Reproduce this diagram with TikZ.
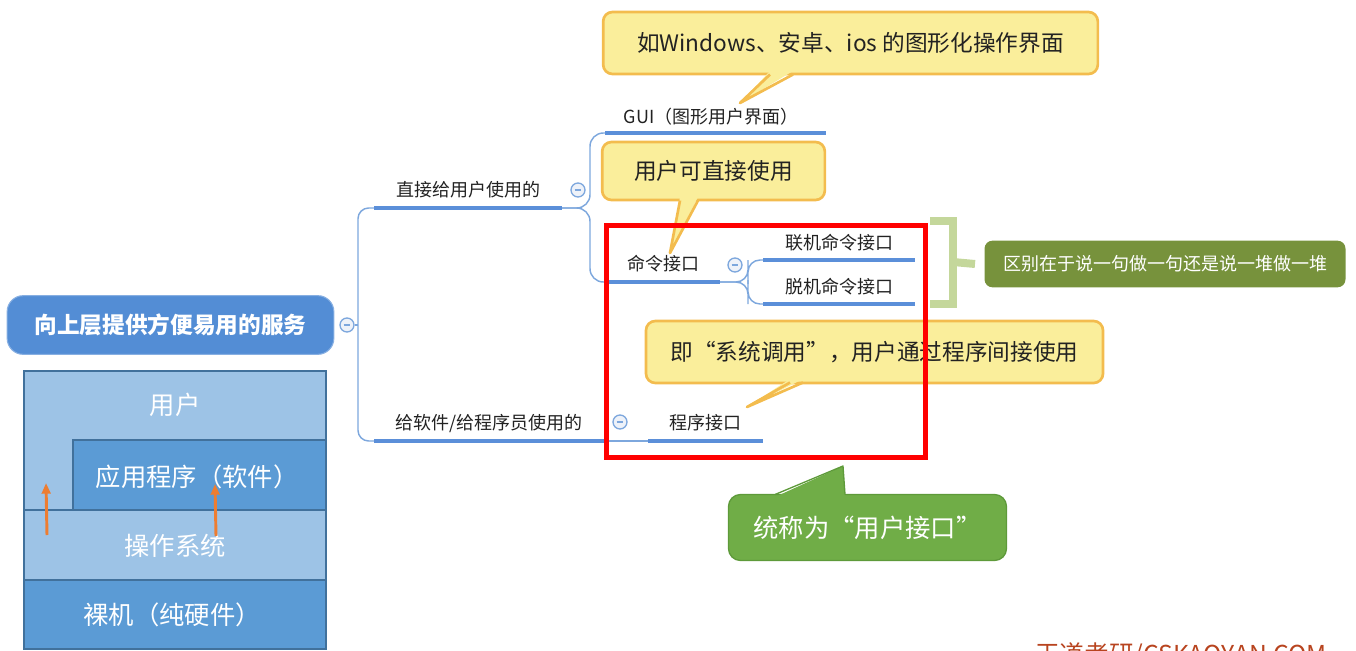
\documentclass[tikz,border=0pt]{standalone}
\usepackage{fontspec}
\setmainfont{Noto Sans CJK SC}
\usetikzlibrary{arrows.meta}
\definecolor{rootblue}{HTML}{538DD5}
\definecolor{lineblue}{HTML}{5B8FD9}
\definecolor{thinblue}{HTML}{7DA7DD}
\definecolor{cfill}{HTML}{EEF2F9}
\definecolor{yfill}{HTML}{FAEE9B}
\definecolor{yborder}{HTML}{F3BC4E}
\definecolor{gbracket}{HTML}{C4D79B}
\definecolor{olive}{HTML}{77923C}
\definecolor{gcall}{HTML}{70AD47}
\definecolor{gcallborder}{HTML}{5E9A3A}
\definecolor{slight}{HTML}{9DC3E6}
\definecolor{sdark}{HTML}{5B9BD5}
\definecolor{sborder}{HTML}{41719C}
\definecolor{orangeA}{HTML}{ED7D31}
\definecolor{wmark}{HTML}{B8441F}
\definecolor{txt}{HTML}{222222}
\tikzset{
  mmlabel/.style={font=\fontsize{13.5}{15}\selectfont, text=txt, inner sep=0pt},
  uline/.style={line width=3pt, draw=lineblue},
  thinl/.style={line width=1.1pt, draw=thinblue},
  collapse/.style={circle, draw=thinblue, fill=cfill, line width=1pt, minimum size=10.5pt, inner sep=0pt,
    path picture={\draw[thinblue, line width=0.9pt] ([xshift=-2.6pt]path picture bounding box.center) -- ([xshift=2.6pt]path picture bounding box.center);}},
  ybox/.style={draw=yborder, fill=yfill, line width=2pt, rounded corners=7pt, inner sep=0pt,
    font=\fontsize{17}{20}\selectfont, text=txt},
  yptrfill/.style={fill=yfill},
  yptrline/.style={draw=yborder, line width=2pt, line join=round},
  stacktext/.style={font=\fontsize{19}{22}\selectfont, text=white, inner sep=0pt},
  stackbox/.style={draw=sborder, line width=1pt},
  uparrow/.style={draw=orangeA, line width=2.2pt, -{Triangle[length=8pt,width=6.5pt]}},
}
\begin{document}
\begin{tikzpicture}[x=0.75pt,y=-0.75pt]
\useasboundingbox (0,0) rectangle (1356,650);

% ---------- layered stack ----------
\path[stackbox, fill=slight] (24,371) rectangle (326,510);
\path[stackbox, fill=sdark] (73,440) rectangle (326,510);
\path[stackbox, fill=slight] (24,510) rectangle (326,580);
\path[stackbox, fill=sdark] (24,580) rectangle (326,649);
\node[stacktext] (user) at (175,405) {用户};
\node[stacktext] (app) at (197,477) {应用程序（软件）};
\node[stacktext] (os) at (175,546) {操作系统};
\node[stacktext] (hw) at (172,615) {裸机（纯硬件）};
\coordinate (a1s) at (47,535); \coordinate (a1e) at (46,483);
\coordinate (a2s) at (216,536); \coordinate (a2e) at (215,484);
\draw[uparrow] (a1s) -- (a1e);
\draw[uparrow] (a2s) -- (a2e);

% ---------- root ----------
\node[fill=rootblue, draw=rootblue!70!white, line width=0.8pt, rounded corners=12pt,
      minimum width=245pt, minimum height=44pt, inner sep=0pt,
      font=\bfseries\fontsize{17}{20}\selectfont, text=white] (root) at (170.5,325) {向上层提供方便易用的服务};
\node[collapse] (c0) at (347,325) {};
\coordinate (j0) at (358,325);
\draw[thinl] (c0.east) -- (j0);

% branch 1
\coordinate (u1a) at (374,208); \coordinate (u1b) at (562,208);
\draw[thinl, rounded corners=8pt] (j0) |- (u1a);
\draw[uline] (u1a) -- (u1b);
\node[mmlabel] (l1) at (468,190) {直接给用户使用的};
\node[collapse] (c1) at (578,190) {};

% GUI
\coordinate (ugA) at (605,133); \coordinate (ugB) at (826,133);
\draw[uline] (ugA) -- (ugB);
\node[mmlabel] (gui) at (711,117) {GUI（图形用户界面）};
\draw[thinl, rounded corners=10pt] (u1b) -| (590,160) |- (ugA);

% command interface
\coordinate (ucA) at (608,282); \coordinate (ucB) at (720,282);
\draw[uline] (ucA) -- (ucB);
\node[mmlabel] (cmd) at (663,264) {命令接口};
\draw[thinl, rounded corners=10pt] (u1b) -| (590,250) |- (ucA);
\node[collapse] (c2) at (735,265) {};

\coordinate (uoA) at (763,260); \coordinate (uoB) at (915,260);
\coordinate (ufA) at (763,304); \coordinate (ufB) at (915,304);
\draw[uline] (uoA) -- (uoB);
\draw[uline] (ufA) -- (ufB);
\node[mmlabel] (online) at (839,243) {联机命令接口};
\node[mmlabel] (offline) at (839,287) {脱机命令接口};
\draw[thinl, rounded corners=9pt] (ucB) -| (748,272) |- (uoA);
\draw[thinl, rounded corners=9pt] (ucB) -| (748,292) |- (ufA);

% branch 2
\coordinate (u2a) at (374,441); \coordinate (u2b) at (604,441);
\draw[thinl, rounded corners=8pt] (j0) |- (u2a);
\draw[uline] (u2a) -- (u2b);
\node[mmlabel] (l2) at (489,423) {给软件/给程序员使用的};
\node[collapse] (c3) at (620,422) {};
\coordinate (upA) at (648,441); \coordinate (upB) at (763,441);
\draw[thinl] (u2b) -- (upA);
\draw[uline] (upA) -- (upB);
\node[mmlabel] (prog) at (705,423) {程序接口};

% ---------- yellow callouts ----------
\node[ybox, minimum width=371pt, minimum height=46.5pt] (k1) at (850.5,43) {如Windows、安卓、ios 的图形化操作界面};
\path[yptrfill] (770,71) -- (740,103) -- (793,71) -- cycle;
\draw[yptrline] (770,74.5) -- (740,103) -- (793,74.5);

\node[ybox, minimum width=167pt, minimum height=43.5pt] (k2) at (713.5,171) {用户可直接使用};
\path[yptrfill] (680,197) -- (670,253) -- (698,197) -- cycle;
\draw[yptrline] (680,200.5) -- (670,253) -- (698,200.5);

\node[ybox, minimum width=342.75pt, minimum height=46.5pt] (k3) at (874.5,352) {即“系统调用”，用户通过程序间接使用};
\path[yptrfill] (790,379) -- (747,407) -- (803,379) -- cycle;
\draw[yptrline] (790,382.5) -- (747,407) -- (803,382.5);

% ---------- red frame ----------
\draw[red, line width=3.75pt] (606,225) rectangle (925.5,457.5);

% ---------- bracket and note ----------
\coordinate (bt) at (930,221); \coordinate (bb) at (930,304);
\draw[gbracket, line width=6pt] (bt) -- (953,221) -- (953,304) -- (bb);
\coordinate (bm) at (953,262);
\node[fill=olive, rounded corners=6pt, minimum width=270.75pt, minimum height=35pt, inner sep=0pt,
      font=\fontsize{13.5}{15}\selectfont, text=white] (note) at (1165,264) {区别在于说一句做一句还是说一堆做一堆};
\draw[gbracket, line width=6pt] (bm) -- (note.west -| 975,0);

% ---------- green callout ----------
\node[fill=gcall, draw=gcallborder, line width=1pt, rounded corners=9pt, minimum width=208.5pt, minimum height=49.5pt,
      inner sep=0pt, font=\fontsize{19}{22}\selectfont, text=white] (g) at (867.5,527.5) {统称为“用户接口”};
\path[fill=gcall] (775,497) -- (843,466) -- (845,497) -- cycle;
\draw[gcallborder, line width=1pt, line join=round] (775,494.5) -- (843,466) -- (845,494.5);

% ---------- watermark (cut off at the lower edge, as in the reference) ----------
\begin{scope}
\clip (0,0) rectangle (1356,650);
\node[anchor=base west, inner sep=0pt, font=\fontsize{18.5}{20}\selectfont, text=wmark] (wm) at (1035,663) {王道考研/CSKAOYAN.COM};
\end{scope}
\end{tikzpicture}
\end{document}
